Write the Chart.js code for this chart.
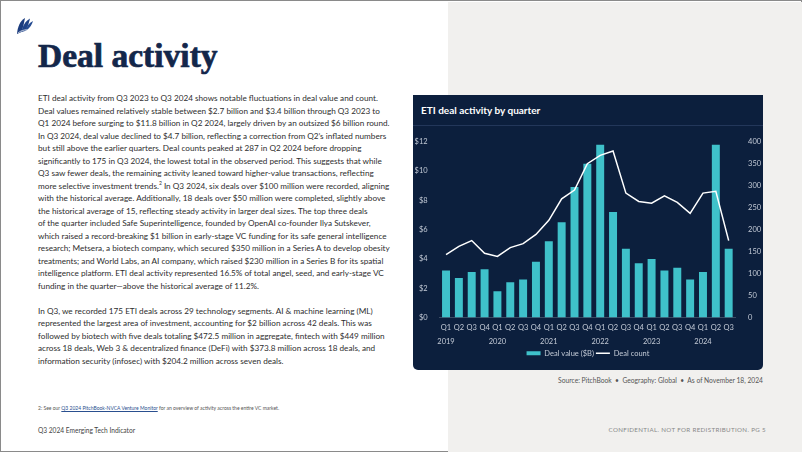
<!DOCTYPE html>
<html>
<head>
<meta charset="utf-8">
<script src="https://cdn.jsdelivr.net/npm/chart.js@4.4.1/dist/chart.umd.min.js"></script>
<style>
  html, body { margin: 0; padding: 0; }
  body { width: 802px; height: 452px; position: relative; overflow: hidden; background: #fff; font-family: Lato, sans-serif; }
  #frame { position: absolute; left: 0; top: 0; width: 800px; height: 450px; border: 1px solid #8a8a8a; }
  #side { position: absolute; left: 448px; top: 2px; right: 0; bottom: 0; background: #f1f0ee; }
  #logo { position: absolute; left: 15px; top: 16px; }
  #heading { position: absolute; left: 38px; top: 37px; font-family: "Liberation Serif", serif; font-weight: bold; font-size: 33.5px; color: #13274a; -webkit-text-stroke: 0.7px #13274a; }
  #body { position: absolute; left: 38px; top: 92px; font-size: 8.2px; line-height: 12.5px; color: #2e2e2e; white-space: nowrap; }
  #body p { margin: 0 0 12.5px 0; }
  #body sup { font-size: 5px; line-height: 0; }
  #note { position: absolute; left: 38px; top: 405px; font-size: 5px; color: #555; white-space: nowrap; }
  #note a { color: #2a4f8f; text-decoration: underline; }
  #footL { position: absolute; left: 38px; top: 426px; font-size: 6.6px; color: #444; }
  #footR { position: absolute; right: 36px; top: 426px; font-size: 6.2px; color: #888; letter-spacing: 0.35px; }
  #panel { position: absolute; left: 413px; top: 95px; width: 350px; height: 275px; background: #0c1f3d; border-radius: 0 0 5px 5px; }
  #ptitle { position: absolute; left: 8px; top: 9px; font-size: 10px; font-weight: bold; color: #fff; }
  #pline { position: absolute; left: 0; top: 30px; width: 350px; height: 1px; background: #23375a; }
  #wrap { position: absolute; left: 0; top: 31px; width: 350px; height: 244px; }
  #source { position: absolute; right: 39px; top: 376px; font-size: 6.7px; color: #555; }
</style>
</head>
<body>
<div id="frame"></div>
<div id="side"></div>

<svg id="logo" width="20" height="20" viewBox="0 0 20 20">
  <path d="M2 18 C2.5 11 5 5 10 2 C9 7 8 12 6.5 16 Z" fill="#1b3c7e"/>
  <path d="M6.5 16 C7.5 10 10 5.5 15 2.5 C14 7 12.5 11.5 10 15 Z" fill="#1f4388"/>
  <path d="M10 15 C11.5 10.5 14 7 18 5 C17 8.5 15 11.5 12 14 Z" fill="#264c92"/>
  <path d="M3 17 C6 14.5 9 13.8 12.5 13.8" stroke="#ffffff" stroke-width="0.7" fill="none"/>
</svg>

<div id="heading">Deal activity</div>

<div id="body">
<p>ETI deal activity from Q3 2023 to Q3 2024 shows notable fluctuations in deal value and count.<br>
Deal values remained relatively stable between $2.7 billion and $3.4 billion through Q3 2023 to<br>
Q1 2024 before surging to $11.8 billion in Q2 2024, largely driven by an outsized $6 billion round.<br>
In Q3 2024, deal value declined to $4.7 billion, reflecting a correction from Q2’s inflated numbers<br>
but still above the earlier quarters. Deal counts peaked at 287 in Q2 2024 before dropping<br>
significantly to 175 in Q3 2024, the lowest total in the observed period. This suggests that while<br>
Q3 saw fewer deals, the remaining activity leaned toward higher-value transactions, reflecting<br>
more selective investment trends.<sup>2</sup> In Q3 2024, six deals over $100 million were recorded, aligning<br>
with the historical average. Additionally, 18 deals over $50 million were completed, slightly above<br>
the historical average of 15, reflecting steady activity in larger deal sizes. The top three deals<br>
of the quarter included Safe Superintelligence, founded by OpenAI co-founder Ilya Sutskever,<br>
which raised a record-breaking $1 billion in early-stage VC funding for its safe general intelligence<br>
research; Metsera, a biotech company, which secured $350 million in a Series A to develop obesity<br>
treatments; and World Labs, an AI company, which raised $230 million in a Series B for its spatial<br>
intelligence platform. ETI deal activity represented 16.5% of total angel, seed, and early-stage VC<br>
funding in the quarter—above the historical average of 11.2%.</p>
<p>In Q3, we recorded 175 ETI deals across 29 technology segments. AI &amp; machine learning (ML)<br>
represented the largest area of investment, accounting for $2 billion across 42 deals. This was<br>
followed by biotech with five deals totaling $472.5 million in aggregate, fintech with $449 million<br>
across 18 deals, Web 3 &amp; decentralized finance (DeFi) with $373.8 million across 18 deals, and<br>
information security (infosec) with $204.2 million across seven deals.</p>
</div>

<div id="note">2: See our <a>Q3 2024 PitchBook-NVCA Venture Monitor</a> for an overview of activity across the entire VC market.</div>
<div id="footL">Q3 2024 Emerging Tech Indicator</div>
<div id="footR">CONFIDENTIAL. NOT FOR REDISTRIBUTION. PG 5</div>

<div id="panel">
  <div id="ptitle">ETI deal activity by quarter</div>
  <div id="pline"></div>
  <div id="wrap"><canvas id="dealChart" width="350" height="244"></canvas></div>
</div>
<div id="source">Source: PitchBook &nbsp;•&nbsp; Geography: Global &nbsp;•&nbsp; As of November 18, 2024</div>

<script>
// Chart data
const quarters = ['Q1', 'Q2', 'Q3', 'Q4'];
const years = ['2019', '2020', '2021', '2022', '2023', '2024'];
const dealValue = [3.2, 2.7, 3.1, 3.3, 1.8, 2.4, 2.6, 3.8, 5.2, 6.5, 8.9, 10.5,
                   11.8, 7.2, 4.7, 3.7, 4.0, 3.2, 3.4, 2.6, 3.1, 11.8, 4.7];
const dealCount = [143, 162, 175, 146, 139, 159, 168, 189, 221, 270, 290, 350,
                   369, 379, 283, 264, 260, 277, 262, 237, 283, 287, 175];

// Q1 gets the year as a second line
const labels = [];
years.forEach(y => {
    quarters.forEach(q => {
        if (labels.length < dealValue.length) {
            labels.push(q === 'Q1' ? [q, y] : [q, '']);
        }
    });
});

const tickColor = '#c3cad6';
const tickFont = { family: 'Lato', size: 7.5 };

new Chart(document.getElementById('dealChart').getContext('2d'), {
    data: {
        labels: labels,
        datasets: [{
            type: 'bar',
            label: 'Deal value ($B)',
            data: dealValue,
            backgroundColor: '#3fc1ca',
            yAxisID: 'y',
            barPercentage: 0.62,
            categoryPercentage: 1,
            order: 2
        }, {
            type: 'line',
            label: 'Deal count',
            data: dealCount,
            borderColor: '#ffffff',
            backgroundColor: '#ffffff',
            borderWidth: 1.5,
            pointRadius: 0,
            tension: 0,
            yAxisID: 'y1',
            order: 1
        }]
    },
    options: {
        responsive: false,
        animation: false,
        layout: { padding: { top: 15.7, left: 0, right: 0, bottom: 3 } },
        plugins: {
            tooltip: { enabled: false },
            legend: {
                position: 'bottom',
                labels: {
                    color: tickColor,
                    font: tickFont,
                    boxWidth: 14,
                    boxHeight: 4,
                    usePointStyle: true,
                    pointStyleWidth: 14,
                    padding: 2,
                    sort: (a, b) => a.datasetIndex - b.datasetIndex,
                    generateLabels: chart => {
                        const items = Chart.defaults.plugins.legend.labels.generateLabels(chart);
                        items.forEach(it => {
                            if (it.datasetIndex === 0) {
                                it.pointStyle = 'rect';
                                it.lineWidth = 0;
                            } else {
                                it.pointStyle = 'line';
                                it.strokeStyle = '#ffffff';
                                it.lineWidth = 1.5;
                            }
                        });
                        return items;
                    }
                }
            }
        },
        scales: {
            x: {
                grid: { display: false, drawTicks: false },
                border: { display: true, color: 'rgba(255,255,255,0.2)' },
                ticks: {
                    color: tickColor,
                    font: { family: 'Lato', size: 7.5, lineHeight: 1.85 },
                    maxRotation: 0,
                    autoSkip: false,
                    padding: 3.5
                },
                afterFit: scale => { scale.height = 30; }
            },
            y: {
                position: 'left',
                min: 0,
                max: 12,
                grid: { display: false },
                border: { display: false },
                ticks: {
                    stepSize: 2,
                    color: tickColor,
                    font: tickFont,
                    padding: 4,
                    callback: v => '$' + v
                },
                afterFit: scale => { scale.width = 26.6; }
            },
            y1: {
                position: 'right',
                min: 0,
                max: 400,
                grid: { display: false },
                border: { display: false },
                ticks: {
                    stepSize: 50,
                    color: tickColor,
                    font: tickFont,
                    padding: 5
                },
                afterFit: scale => { scale.width = 27.9; }
            }
        }
    }
});
</script>
</body>
</html>
